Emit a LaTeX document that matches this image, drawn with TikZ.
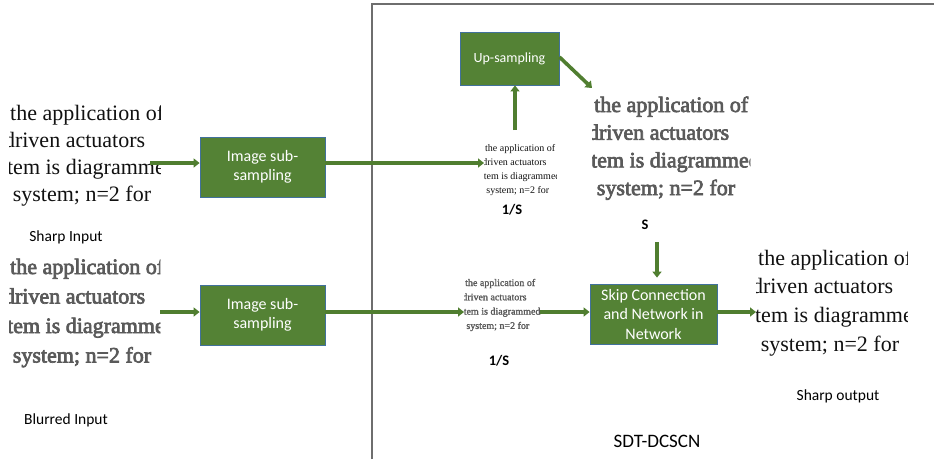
\documentclass[tikz,border=0pt]{standalone}
\usepackage{fontspec}
\setmainfont{Carlito}
\newfontfamily\serifsnip{Liberation Serif}
\newfontfamily\blursnip[FakeBold=3]{Liberation Serif}
\newfontfamily\blursniplight[FakeBold=1.5]{Liberation Serif}
\usetikzlibrary{arrows.meta}
\definecolor{boxgreen}{HTML}{548235}
\definecolor{boxedge}{HTML}{41719C}
\definecolor{flowgreen}{HTML}{507E30}
\definecolor{framegray}{HTML}{6E6E6E}
\definecolor{snipink}{HTML}{111111}
\definecolor{blurink}{HTML}{5A5A5A}
\tikzset{
  greenbox/.style={draw=boxedge, line width=0.8pt, fill=boxgreen, text=white,
    align=center, inner sep=0pt, font=\fontsize{16}{19.5}\selectfont},
  flow/.style={draw=flowgreen, line width=3.6pt,
    -{Triangle[length=6pt,width=9pt]}},
  snipregion/.style={inner sep=0pt, draw=none, anchor=north west},
  sniptext/.style={anchor=base west, inner sep=0pt,
    font=\serifsnip\fontsize{#1}{#1}\selectfont},
  caption/.style={inner sep=0pt, font=\fontsize{15.5}{18}\selectfont},
  title/.style={inner sep=0pt, font=\fontsize{19}{22}\selectfont},
  scalelabel/.style={inner sep=0pt, font=\bfseries\fontsize{14.5}{16}\selectfont},
  frame/.style={draw=framegray, line width=1.4pt}
}
% #1 name, #2 x0, #3 first baseline, #4 font size, #5 line skip, #6 colour, #7 font family
\newcommand\sniplines[7]{%
  \node[sniptext={#4}, text=#6, font=#7\fontsize{#4}{#4}\selectfont] (#1-1) at ({#2},{#3}) {the application of};
  \node[sniptext={#4}, text=#6, font=#7\fontsize{#4}{#4}\selectfont] (#1-2) at ({#2-0.28*#4},{#3+#5}) {driven actuators};
  \node[sniptext={#4}, text=#6, font=#7\fontsize{#4}{#4}\selectfont] (#1-3) at ({#2-0.14*#4},{#3+2*#5}) {tem is diagrammed};
  \node[sniptext={#4}, text=#6, font=#7\fontsize{#4}{#4}\selectfont] (#1-4) at ({#2+0.12*#4},{#3+3*#5}) {system; n=2 for};
}
\begin{document}
\begin{tikzpicture}[x=1pt,y=-1pt]
\useasboundingbox (0,0) rectangle (934,459);
\fill[white] (0,0) rectangle (934,459);

% frame
\draw[frame] (372,459) -- (372,4) -- (934,4);

% snippet regions
\node[snipregion, minimum width=151pt, minimum height=122pt] (sin) at (9,94) {};
\node[snipregion, minimum width=151pt, minimum height=155pt] (bin) at (9,255) {};
\node[snipregion, minimum width=72pt, minimum height=62pt] (lo1) at (484,139) {};
\node[snipregion, minimum width=158pt, minimum height=152pt] (up1) at (592,88) {};
\node[snipregion, minimum width=76pt, minimum height=80pt] (lo2) at (464,275) {};
\node[snipregion, minimum width=151pt, minimum height=135pt] (out) at (756,240) {};

\begin{scope}
  \clip (sin.north west) rectangle (sin.south east);
  \sniplines{sharpin}{10}{120}{22}{27}{snipink}{\serifsnip}
\end{scope}
\begin{scope}
  \clip (bin.north west) rectangle (bin.south east);
  \sniplines{blurin}{10}{274}{22}{29.5}{blurink}{\blursnip}
\end{scope}
\begin{scope}
  \clip (lo1.north west) rectangle (lo1.south east);
  \sniplines{lowsharp}{485}{151}{10}{14}{snipink}{\serifsnip}
\end{scope}
\begin{scope}
  \clip (up1.north west) rectangle (up1.south east);
  \sniplines{upblur}{594}{112}{22}{27.7}{blurink}{\blursnip}
\end{scope}
\begin{scope}
  \clip (lo2.north west) rectangle (lo2.south east);
  \sniplines{lowblur}{465}{286}{10}{14.3}{blurink}{\blursniplight}
\end{scope}
\begin{scope}
  \clip (out.north west) rectangle (out.south east);
  \sniplines{sharpout}{758}{265}{22}{28.7}{snipink}{\serifsnip}
\end{scope}

% boxes
\node[greenbox, minimum width=125pt, minimum height=60pt] (b1) at (262.5,167) {Image sub-\\sampling};
\node[greenbox, minimum width=125pt, minimum height=60pt] (b2) at (262.5,315) {Image sub-\\sampling};
\node[greenbox, minimum width=99pt, minimum height=53pt, font=\fontsize{14}{17}\selectfont] (ups) at (509.5,58.5) {Up-sampling};
\node[greenbox, minimum width=127pt, minimum height=60pt] (skip) at (653.5,314) {Skip Connection\\and Network in\\Network};

% labels
\node[caption] (lsin) at (66,237) {Sharp Input};
\node[caption] (lbin) at (66,420) {Blurred Input};
\node[caption] (lout) at (838,396) {Sharp output};
\node[title] (ltitle) at (657,441) {SDT-DCSCN};
\node[scalelabel] (s1) at (512,210) {1/S};
\node[scalelabel] (s2) at (645,225) {S};
\node[scalelabel] (s3) at (499,361) {1/S};

% connectors
\coordinate (c1) at (150,163);
\draw[flow] (c1) -- (c1 -| b1.west);
\draw[flow] (bin.east |- 0,312) -- (b2.west |- 0,312);
\draw[flow] (b1.east |- c1) -- (lo1.west |- c1);
\draw[flow] (515,130) -- (ups.south -| 515,0);
\draw[flow] (ups.east |- 0,57) -- (up1.north west);
\draw[flow] (657,242) -- ([yshift=6pt]skip.north -| 657,0);
\draw[flow] (b2.east |- 0,312) -- (lo2.west |- 0,312);
\draw[flow] (lo2.east |- 0,312) -- (skip.west |- 0,312);
\draw[flow] (skip.east |- 0,312) -- (out.west |- 0,312);
\end{tikzpicture}
\end{document}
